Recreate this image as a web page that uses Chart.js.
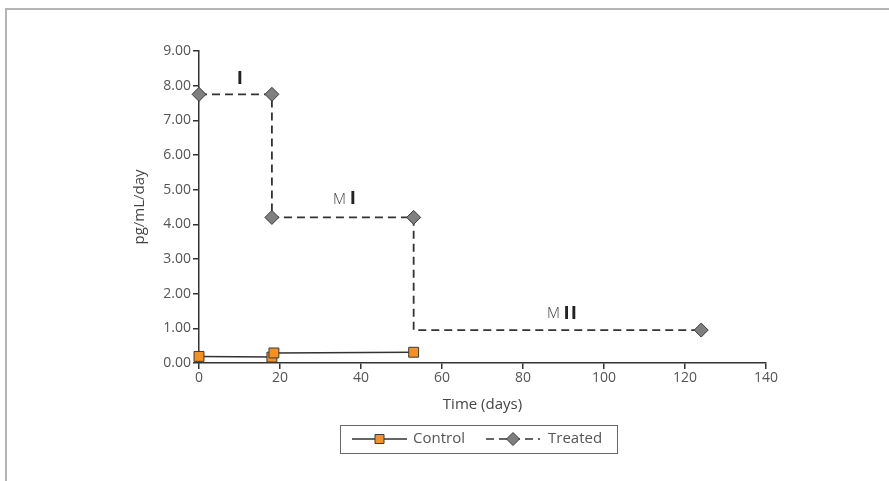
<!DOCTYPE html>
<html>
<head>
<meta charset="utf-8">
<script src="https://cdn.jsdelivr.net/npm/chart.js@4/dist/chart.umd.min.js"></script>
<style>
  html, body { margin: 0; padding: 0; background: #fff; }
  #wrap { position: relative; width: 889px; height: 481px; }
  #frame { position: absolute; left: 5px; top: 8px; right: 0; bottom: 0;
           border-top: 2px solid #b4b4b4; border-left: 2px solid #b4b4b4; }
  canvas { position: absolute; left: 0; top: 0; }
</style>
</head>
<body>
<div id="wrap">
  <div id="frame"></div>
  <canvas id="chart" width="889" height="481"></canvas>
</div>
<script>
// values
const controlDays = [0, 18, 18.5, 53];
const controlValues = [0.19, 0.17, 0.29, 0.31];

const treatedDays = [0, 18, 18, 53, 53, 124];
const treatedValues = [7.75, 7.75, 4.2, 4.2, 0.95, 0.95];

const phaseLabels = [
  { x: 9.4, y: 8.19, pre: "", roman: "I" },
  { x: 33.1, y: 4.7, pre: "M", roman: "I" },
  { x: 85.9, y: 1.41, pre: "M", roman: "II" }
];

const xTicks = [0, 20, 40, 60, 80, 100, 120, 140];
const yTicks = [0, 1, 2, 3, 4, 5, 6, 7, 8, 9];

const FONT = "'Open Sans', sans-serif";
const TEXT = "#555";
const INK = "#333";

const toXY = (xs, ys) => xs.map((x, i) => ({ x: x, y: ys[i] }));

// phase labels drawn at data coordinates
const phasePlugin = {
  id: "phases",
  afterDatasetsDraw(chart) {
    const ctx = chart.ctx;
    const xs = chart.scales.x, ys = chart.scales.y;
    ctx.save();
    ctx.textBaseline = "middle";
    phaseLabels.forEach(p => {
      let px = xs.getPixelForValue(p.x);
      const py = ys.getPixelForValue(p.y);
      if (p.pre) {
        ctx.font = "300 15px " + FONT;
        ctx.fillStyle = "#444";
        ctx.fillText(p.pre, px, py);
        px += ctx.measureText(p.pre + " ").width;
      }
      ctx.font = "bold 17px 'DejaVu Sans Condensed', sans-serif";
      ctx.fillStyle = "#222";
      ctx.fillText(p.roman.split("").join("\u200a"), px, py);
    });
    ctx.restore();
  }
};

// boxed legend under the axis title
const legendPlugin = {
  id: "boxLegend",
  afterDraw(chart) {
    const ctx = chart.ctx;
    const box = { x: 340, y: 425, w: 277, h: 28 };
    const cy = box.y + box.h / 2;
    ctx.save();
    ctx.strokeStyle = "#666";
    ctx.lineWidth = 1;
    ctx.strokeRect(box.x + 0.5, box.y + 0.5, box.w, box.h);

    const items = [
      { ds: chart.data.datasets[0], x0: 352, x1: 407, tx: 413 },
      { ds: chart.data.datasets[1], x0: 486, x1: 540, tx: 548 }
    ];
    items.forEach(it => {
      ctx.strokeStyle = it.ds.borderColor;
      ctx.lineWidth = 1.5;
      ctx.setLineDash(it.ds.borderDash || []);
      ctx.beginPath();
      ctx.moveTo(it.x0, cy);
      ctx.lineTo(it.x1, cy);
      ctx.stroke();
      ctx.setLineDash([]);
      ctx.fillStyle = it.ds.pointBackgroundColor;
      ctx.strokeStyle = it.ds.pointBorderColor;
      ctx.lineWidth = 1;
      const r = it.ds.legendRadius;
      const mx = (it.x0 + it.x1) / 2;
      ctx.beginPath();
      if (it.ds.pointStyle === "rect") {
        ctx.rect(mx - r, cy - r, 2 * r, 2 * r);
      } else {
        ctx.moveTo(mx, cy - r); ctx.lineTo(mx + r, cy);
        ctx.lineTo(mx, cy + r); ctx.lineTo(mx - r, cy); ctx.closePath();
      }
      ctx.fill(); ctx.stroke();
      ctx.fillStyle = TEXT;
      ctx.font = "15px " + FONT;
      ctx.textBaseline = "middle";
      ctx.fillText(it.ds.label, it.tx, cy);
    });
    ctx.restore();
  }
};

new Chart(document.getElementById("chart"), {
  type: "scatter",
  data: {
    datasets: [
      {
        label: "Control",
        data: toXY(controlDays, controlValues),
        showLine: true,
        clip: false,
        borderColor: INK,
        borderWidth: 1.5,
        pointStyle: "rect",
        pointRadius: 7,
        pointBackgroundColor: "#f7901e",
        pointBorderColor: "#3a3a3a",
        pointBorderWidth: 1,
        legendRadius: 4.5
      },
      {
        label: "Treated",
        data: toXY(treatedDays, treatedValues),
        showLine: true,
        clip: false,
        borderColor: INK,
        borderWidth: 1.8,
        borderDash: [8, 5],
        pointStyle: "rectRot",
        pointRadius: ctx => ctx.dataIndex === 4 ? 0 : 7,
        pointBackgroundColor: "#7f7f7f",
        pointBorderColor: "#3a3a3a",
        pointBorderWidth: 1,
        legendRadius: 6.5
      }
    ]
  },
  options: {
    responsive: false,
    animation: false,
    events: [],
    layout: { padding: { left: 131, right: 123, top: 51, bottom: 67 } },
    plugins: { legend: { display: false }, tooltip: { enabled: false } },
    scales: {
      x: {
        type: "linear",
        min: 0, max: 140,
        afterBuildTicks: s => { s.ticks = xTicks.map(v => ({ value: v })); },
        afterFit: s => { s.height = 51; },
        border: { display: true, color: INK, width: 1.5 },
        grid: { display: true, drawOnChartArea: false, drawTicks: true, tickLength: 6, color: INK, lineWidth: 1.5 },
        ticks: { color: TEXT, font: { family: FONT, size: 14 }, padding: 1 },
        title: {
          display: true, text: "Time (days)", color: "#444",
          font: { family: FONT, size: 15 }, padding: 0
        }
      },
      y: {
        type: "linear",
        min: 0, max: 9,
        afterBuildTicks: s => { s.ticks = yTicks.map(v => ({ value: v })); },
        afterFit: s => { s.width = 68; },
        border: { display: true, color: INK, width: 1.5 },
        grid: { display: true, drawOnChartArea: false, drawTicks: true, tickLength: 6, color: INK, lineWidth: 1.5 },
        ticks: {
          color: TEXT, font: { family: FONT, size: 14 }, padding: 2,
          callback: v => v.toFixed(2)
        },
        title: {
          display: true, text: "pg/mL/day", color: "#444",
          font: { family: FONT, size: 15 }, padding: 0
        }
      }
    }
  },
  plugins: [phasePlugin, legendPlugin]
});
</script>
</body>
</html>
